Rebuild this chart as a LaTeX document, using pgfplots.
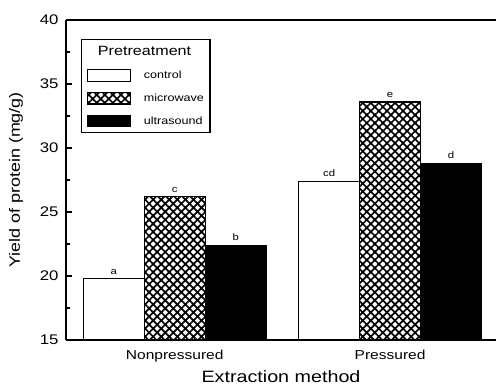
\documentclass[border=0pt]{standalone}
\usepackage{pgfplots}
\pgfplotsset{compat=1.18}
\usepackage{pgfplotstable}
\usepackage{fontspec}
\setmainfont{Liberation Sans}[FakeStretch=1.2]
\usetikzlibrary{patterns.meta}

\pgfplotstableread{
x y lab
0 19.8 a
1 27.4 cd
}\control
\pgfplotstableread{
x y lab
0 26.2 c
1 33.6 e
}\microwave
\pgfplotstableread{
x y lab
0 22.4 b
1 28.8 d
}\ultrasound

\begin{document}
\begin{tikzpicture}
\path[use as bounding box] (0,0) rectangle (496bp,385bp);
\begin{axis}[
  at={(66bp,45bp)}, anchor=south west,
  scale only axis, width=430bp, height=320bp,
  ybar, bar width=0.283,
  xmin=-0.505, xmax=1.492,
  ymin=15, ymax=40,
  ytick={15,20,25,30,35,40},
  minor y tick num=1,
  xtick={0,1},
  xticklabels={Nonpressured,Pressured},
  axis x line*=bottom, axis y line*=left,
  axis line style={-, line width=1.3bp},
  x tick style={draw=none},
  y tick style={line width=1.1bp, black},
  tick align=inside,
  major tick length=6bp, minor tick length=4bp,
  /pgf/number format/assume math mode=true,
  yticklabel style={font=\fontsize{14}{16}\selectfont, xshift=-4bp},
  xticklabel style={font=\fontsize{13}{15}\selectfont, anchor=base, yshift=-19bp},
  xlabel={Extraction method},
  ylabel={Yield of protein (mg/g)},
  every axis x label/.style={at={(axis description cs:0.5,-0.134)}, anchor=base, font=\fontsize{16.5}{19}\selectfont},
  every axis y label/.style={at={(axis description cs:-0.1163,0.5)}, rotate=90, anchor=center, font=\fontsize{15}{18}\selectfont},
  legend style={at={(axis description cs:0.035,0.94)}, anchor=north west,
    draw=black, line width=1.3bp, inner xsep=5bp, inner ysep=5bp,
    nodes={inner sep=1bp}, row sep=10bp, column sep=12bp,
    font=\fontsize{10.5}{12}\selectfont, cells={anchor=west}},
  legend image code/.code={\draw[#1, line width=1.2bp] (0bp,-5.8bp) rectangle (43bp,5.8bp);},
  nodes near coords,
  point meta=explicit symbolic,
  every node near coord/.append style={font=\fontsize{9.5}{10}\selectfont, anchor=south, yshift=0.5bp, text=black},
]
\addlegendimage{empty legend}
\addlegendentry{\hspace{-46bp}\raisebox{1.5bp}{\fontsize{13.5}{15}\selectfont Pretreatment}}
\addplot[bar shift=-0.283, fill=white, draw=black, line width=1.2bp]
  table[x=x, y=y, meta=lab] {\control};
\addlegendentry{control}
\addplot[bar shift=0, draw=black, line width=1.2bp,
  pattern={Hatch[angle=45, distance=5.7bp, line width=1.7bp]}]
  table[x=x, y=y, meta=lab] {\microwave};
\addlegendentry{microwave}
\addplot[bar shift=0.283, fill=black, draw=black, line width=1.2bp]
  table[x=x, y=y, meta=lab] {\ultrasound};
\addlegendentry{ultrasound}
\draw[line width=1.3bp] (rel axis cs:0,1) -- (rel axis cs:1,1);
\end{axis}
\end{tikzpicture}
\end{document}
